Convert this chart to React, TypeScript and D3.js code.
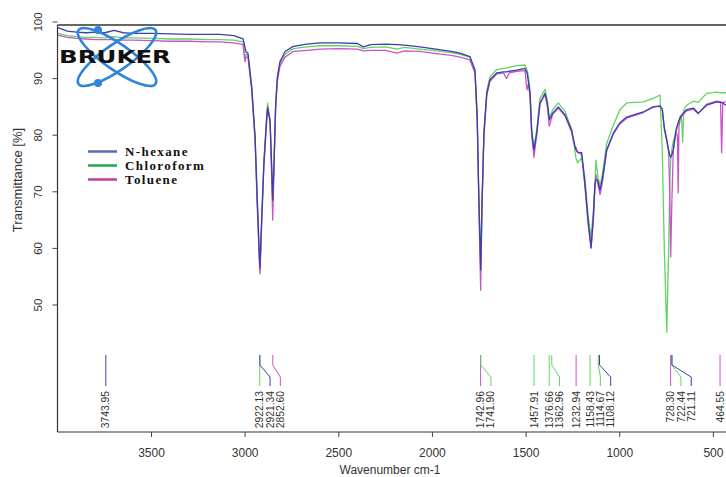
import React from 'react';
import * as d3 from 'd3';

// shared wavenumber grid (cm-1) and transmittance (%)
const wavenumbers = [
  4000, 3950, 3900, 3850, 3800, 3750, 3700, 3650, 3600, 3500, 3400, 3300, 3200, 3134, 3060,
  3011, 3001, 2995, 2985, 2965, 2947, 2935, 2925, 2921, 2912, 2900, 2885, 2880, 2867, 2858,
  2853, 2846, 2837, 2828, 2814, 2787, 2743, 2671, 2600, 2500, 2400, 2369, 2330, 2250, 2190,
  2150, 2067, 2000, 1900, 1853, 1800, 1773, 1761, 1752, 1742.5, 1735, 1725, 1710, 1693, 1657,
  1620, 1604, 1590, 1550, 1506, 1495, 1488, 1479, 1470, 1458, 1443, 1426, 1399, 1387, 1376,
  1358, 1328, 1292, 1257, 1240, 1234, 1225, 1203, 1186, 1168, 1153, 1141, 1132, 1127, 1118,
  1105, 1091, 1070, 1034, 999, 963, 874, 821, 785, 773, 762, 749, 739, 733, 728,
  722, 714, 700, 692, 688, 684, 676, 670, 664, 658, 643, 607, 581, 536, 482,
  462, 456, 450, 433, 400,
];

const nHexane = [
  99.0, 98.4, 98.2, 98.1, 98.2, 98.1, 98.5, 98.1, 98.0, 98.0, 97.9, 97.8, 97.8, 97.8, 97.6,
  97.0, 95.5, 94.7, 94.5, 88.5, 79.7, 68.5, 59.5, 56.5, 65.0, 75.0, 83.0, 84.8, 82.5, 74.0,
  68.5, 75.0, 85.5, 90.3, 93.0, 94.8, 95.7, 96.1, 96.3, 96.3, 96.2, 95.6, 96.0, 96.1, 96.0,
  95.9, 95.6, 95.3, 94.8, 94.5, 93.9, 91.5, 83.2, 68.5, 56.2, 68.5, 80.4, 87.4, 89.8, 91.0,
  91.2, 91.2, 91.3, 91.5, 91.8, 91.0, 89.5, 87.4, 80.4, 77.4, 80.4, 85.7, 87.4, 85.7, 82.7,
  83.9, 85.0, 83.6, 80.9, 78.2, 77.4, 77.0, 76.9, 71.5, 64.5, 60.2, 65.6, 71.5, 72.1, 72.1,
  70.3, 72.6, 77.4, 80.4, 82.2, 83.2, 84.1, 85.0, 85.2, 84.6, 81.4, 79.2, 77.4, 76.5, 76.1,
  76.5, 77.4, 80.9, 81.8, 82.2, 82.6, 83.2, 83.5, 83.8, 84.0, 84.5, 84.8, 83.9, 85.3, 85.9,
  85.8, 85.8, 85.7, 85.3, 85.2,
];

const chloroform = [
  98.0, 97.6, 97.4, 97.3, 97.3, 97.2, 97.4, 97.2, 97.2, 97.1, 97.0, 97.0, 96.9, 96.9, 96.8,
  96.5, 93.5, 94.3, 94.2, 88.5, 79.7, 68.0, 59.2, 56.2, 65.0, 75.5, 83.5, 85.7, 82.7, 74.0,
  68.0, 75.0, 85.5, 90.0, 92.7, 94.3, 95.3, 95.6, 95.8, 95.8, 95.7, 95.3, 95.5, 95.6, 95.2,
  95.5, 95.2, 95.0, 94.6, 94.3, 93.8, 91.5, 83.2, 68.5, 57.5, 69.0, 80.8, 87.8, 90.3, 91.6,
  91.8, 91.9, 92.0, 92.3, 92.4, 91.5, 90.5, 88.0, 81.0, 77.8, 81.0, 86.5, 88.1, 86.2, 83.0,
  84.5, 85.7, 84.2, 81.0, 77.5, 76.0, 75.1, 76.0, 72.5, 65.5, 62.0, 66.5, 72.0, 75.6, 73.0,
  71.0, 73.5, 78.5, 81.8, 84.5, 85.7, 85.9, 86.5, 87.1, 77.4, 59.7, 45.2, 59.7, 71.0, 75.5,
  77.5, 79.0, 80.5, 81.5, 82.0, 82.5, 83.5, 83.0, 78.8, 84.5, 85.3, 86.0, 85.8, 87.4, 87.6,
  87.5, 87.5, 87.5, 87.5, 87.4,
];

const toluene = [
  97.7, 97.3, 97.1, 97.0, 96.9, 96.9, 96.9, 96.8, 96.8, 96.7, 96.6, 96.6, 96.5, 96.5, 96.3,
  96.0, 93.0, 93.8, 93.8, 88.0, 79.0, 67.0, 58.5, 55.5, 64.0, 74.5, 82.5, 85.0, 82.5, 72.5,
  65.0, 74.0, 85.0, 89.5, 92.2, 93.8, 94.8, 95.0, 95.2, 95.3, 95.2, 94.9, 95.0, 95.0, 94.5,
  94.9, 94.8, 94.5, 94.1, 93.8, 93.3, 91.0, 82.5, 67.5, 52.6, 68.0, 80.0, 87.0, 89.5, 90.8,
  91.0, 90.0, 91.0, 91.3, 91.4, 88.0, 89.0, 87.0, 80.0, 76.1, 80.2, 85.5, 87.2, 85.2, 81.6,
  83.7, 84.8, 83.4, 80.5, 78.0, 77.9, 77.0, 76.5, 71.0, 64.0, 60.0, 65.0, 71.0, 73.0, 71.5,
  69.5, 72.0, 77.2, 80.2, 82.0, 83.0, 84.0, 85.0, 85.1, 84.5, 81.0, 79.0, 77.0, 70.0, 58.5,
  68.0, 77.5, 80.5, 80.0, 69.8, 81.5, 83.0, 83.3, 83.5, 83.8, 84.3, 84.6, 83.8, 85.5, 86.0,
  85.9, 76.9, 85.8, 85.9, 85.8,
];

const seriesNames = ['N-hexane', 'Chloroform', 'Toluene'];
const seriesValues = [nHexane, chloroform, toluene];
const lineColors = ['#3b3fa8', '#62d462', '#cc52cc'];
const legendColors = ['#5a6ab8', '#1fa84a', '#c23c9c'];
const drawOrder = [1, 2, 0];

// peak picks: label text, wavenumber, series index
const peakLabels = [
  '3743.95', '2922.13', '2921.34', '2852.60', '1742.96', '1741.90', '1457.91', '1376.66',
  '1362.96', '1232.94', '1158.43', '1114.67', '1108.12', '728.30', '722.44', '721.11', '464.55',
];
const peakSeries = [0, 1, 0, 2, 2, 1, 1, 1, 1, 2, 1, 1, 0, 2, 1, 0, 2];

const yTicks = [100, 90, 80, 70, 60, 50];
const xTicks = [3500, 3000, 2500, 2000, 1500, 1000, 500];

const W = 726;
const H = 477;
const left = 57.5;
const top = 25;
const bottom = 432;

export default function App() {
  const x = d3.scaleLinear().domain([3500, 500]).range([151.5, 713.4]);
  const y = d3.scaleLinear().domain([100, 50]).range([22, 305]);

  const line = d3
    .line<[number, number]>()
    .x((d) => x(d[0]))
    .y((d) => y(d[1]));

  // spread labels so they don't overlap
  const peaks: { label: string; px: number; lx: number; color: string }[] = [];
  let prev = -Infinity;
  peakLabels.forEach((lab, i) => {
    const px = x(parseFloat(lab));
    const lx = Math.max(px, prev + 10.3);
    prev = lx;
    peaks.push({ label: lab, px, lx, color: lineColors[peakSeries[i]] });
  });

  const cx = 117;
  const cy = 57;

  return (
    <svg
      width={W}
      height={H}
      style={{ position: 'absolute', left: 0, top: 0, background: '#fff', display: 'block' }}
      fontFamily="'Liberation Sans', Arial, sans-serif"
    >
      <defs>
        <clipPath id="plot">
          <rect x={left} y={top} width={W - left} height={bottom - top} />
        </clipPath>
      </defs>

      <g clipPath="url(#plot)">
        {drawOrder.map((s) => (
          <path
            key={s}
            d={line(wavenumbers.map((w, i) => [w, seriesValues[s][i]] as [number, number])) || ''}
            fill="none"
            stroke={lineColors[s]}
            strokeWidth={1.3}
            strokeLinejoin="round"
          />
        ))}
      </g>

      {/* peak annotations */}
      {peaks.map((p) => (
        <g key={p.label}>
          <path
            d={`M${p.px},355 L${p.px},365 L${p.lx},377 L${p.lx},386`}
            fill="none"
            stroke={p.color}
            strokeWidth={1}
          />
          <text
            transform={`translate(${p.lx + 3.6},391) rotate(-90)`}
            textAnchor="end"
            fontSize={10.3}
            fill="#333"
          >
            {p.label}
          </text>
        </g>
      ))}

      {/* frame */}
      <line x1={left} x2={W} y1={top} y2={top} stroke="#333" strokeWidth={1.5} />
      <line x1={left} x2={left} y1={top} y2={bottom} stroke="#333" strokeWidth={1.2} />
      <line x1={left} x2={W} y1={bottom} y2={bottom} stroke="#333" strokeWidth={1.2} />

      {yTicks.map((t) => (
        <g key={t}>
          <line x1={left - 5} x2={left} y1={y(t)} y2={y(t)} stroke="#444" />
          <text
            transform={`translate(42,${y(t)}) rotate(-90)`}
            textAnchor="middle"
            fontSize={11.5}
            fill="#333"
          >
            {t}
          </text>
        </g>
      ))}
      {xTicks.map((t) => (
        <g key={t}>
          <line x1={x(t)} x2={x(t)} y1={bottom} y2={bottom + 5} stroke="#444" />
          <text x={x(t)} y={457} textAnchor="middle" fontSize={12} fill="#333">
            {t}
          </text>
        </g>
      ))}

      <text transform="translate(22,180) rotate(-90)" textAnchor="middle" fontSize={13} fill="#333">
        Transmittance [%]
      </text>
      <text x={390} y={474} textAnchor="middle" fontSize={12} fill="#333">
        Wavenumber cm-1
      </text>

      {/* legend */}
      {seriesNames.map((n, i) => (
        <g key={n}>
          <line x1={88} x2={117} y1={151.5 + i * 14} y2={151.5 + i * 14} stroke={legendColors[i]} strokeWidth={2.5} />
          <text
            x={125}
            y={155.5 + i * 14}
            fontFamily="'Liberation Serif', 'Times New Roman', serif"
            fontWeight="bold"
            fontSize={13}
            letterSpacing={1.4}
            fill="#111"
          >
            {n}
          </text>
        </g>
      ))}

      {/* Bruker logo */}
      <g>
        <ellipse cx={cx} cy={cy} rx={47} ry={13} transform={`rotate(35,${cx},${cy})`} fill="none" stroke="#2f86d8" strokeWidth={2.6} />
        <ellipse cx={cx} cy={cy} rx={47} ry={13} transform={`rotate(-35,${cx},${cy})`} fill="none" stroke="#2f86d8" strokeWidth={2.6} />
        <circle cx={98} cy={30} r={4} fill="#2f86d8" />
        <circle cx={98} cy={83} r={4} fill="#2f86d8" />
        <text
          x={59}
          y={63}
          fontFamily="'DejaVu Sans', sans-serif"
          fontWeight="bold"
          fontSize={18}
          textLength={112}
          lengthAdjust="spacingAndGlyphs"
          fill="#111"
        >
          BRUKER
        </text>
      </g>
    </svg>
  );
}
